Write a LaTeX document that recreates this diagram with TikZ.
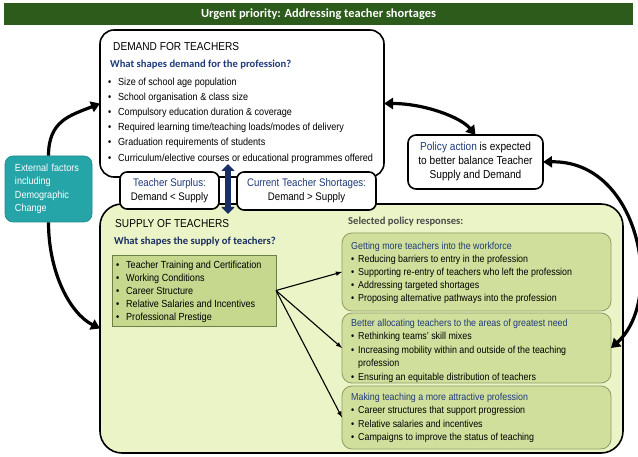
\documentclass[tikz,border=0pt]{standalone}
\usepackage{fontspec}
\setmainfont[FakeStretch=0.88]{Liberation Sans}
\newfontfamily\calibri{Carlito}
\usetikzlibrary{arrows.meta}

\definecolor{barGreen}{HTML}{2C5B1C}
\definecolor{supplyGreen}{HTML}{EBF4C6}
\definecolor{policyGreen}{HTML}{D0E09C}
\definecolor{policyEdge}{HTML}{8E9C64}
\definecolor{factorGreen}{HTML}{C5D88E}
\definecolor{factorEdge}{HTML}{6E7E44}
\definecolor{extTeal}{HTML}{25A5A8}
\definecolor{extEdge}{HTML}{1B8A8C}
\definecolor{navyText}{HTML}{1F3A7A}
\definecolor{navyArrow}{HTML}{1A2F66}
\definecolor{greyText}{HTML}{4A4A4A}

\newcommand{\dotitem}[1][10pt]{\makebox[#1][l]{\textbullet}}

\tikzset{
  bigbox/.style={rectangle, rounded corners=14pt, draw, line width=1.6pt, outer sep=0pt},
  smallbox/.style={rectangle, rounded corners=7pt, draw, line width=1.6pt, fill=white, outer sep=0pt, align=center},
  policybox/.style={rectangle, rounded corners=10pt, draw=policyEdge, line width=0.8pt, fill=policyGreen, outer sep=0pt},
  bigarrow/.style={line width=3.2pt, -{Triangle[length=9pt,width=11pt]}},
  listtext/.style={anchor=north west, align=left, inner sep=0pt},
  heading/.style={anchor=west, inner sep=0pt, font=\fontsize{11.5}{13}\selectfont},
  question/.style={anchor=west, inner sep=0pt, font=\calibri\bfseries\fontsize{10.6}{12}\selectfont},
}

\begin{document}
\begin{tikzpicture}[x=1pt, y=-1pt]
    \useasboundingbox (0,0) rectangle (638,457);

    \node at (318.5,14) [rectangle, fill=barGreen, minimum width=629, minimum height=22, text=white, font=\calibri\bfseries\fontsize{12.4}{14}\selectfont] (Title) {Urgent priority: Addressing teacher shortages};

    \node at (242,103.5) [bigbox, fill=white, minimum width=284, minimum height=147] (Demand) {};
    \node at (361.5,328.5) [bigbox, rounded corners=22pt, fill=supplyGreen, minimum width=523, minimum height=249] (Supply) {};

    \node at (169.5,190.5) [smallbox, minimum width=99, minimum height=37, font=\fontsize{11}{14}\selectfont] (Surplus) {\textcolor{navyText}{Teacher Surplus:}\\Demand {<} Supply};
    \node at (306.5,191) [smallbox, minimum width=139, minimum height=38, font=\fontsize{11}{14}\selectfont] (Shortages) {\textcolor{navyText}{Current Teacher Shortages:}\\Demand {>} Supply};

    \node at (48.5,189) [rectangle, rounded corners=8pt, fill=extTeal, draw=extEdge, line width=0.6pt, minimum width=87, minimum height=66, text=white, text width=67, align=left, font=\fontsize{10.3}{13.5}\selectfont] (External) {External factors\\including\\Demographic\\Change};

    \node at (475.5,162) [smallbox, rounded corners=8pt, minimum width=135, minimum height=54, font=\fontsize{11.5}{14}\selectfont] (PolicyAction) {\textcolor{navyText}{Policy action} is expected\\to better balance Teacher\\Supply and Demand};

    \node[heading] at (113,47) (DemandTitle) {DEMAND FOR TEACHERS};
    \node[question, text=navyText] at (110,65) (DemandQuestion) {What shapes demand for the profession?};
    \node[listtext, font=\fontsize{10.3}{15.2}\selectfont] at (108,77.5) (DemandList) {\dotitem Size of school age population\\
        \dotitem School organisation \& class size\\
        \dotitem Compulsory education duration \& coverage\\
        \dotitem Required learning time/teaching loads/modes of delivery\\
        \dotitem Graduation requirements of students\\
        \dotitem Curriculum/elective courses or educational programmes offered};

    \node[heading] at (115,224) (SupplyTitle) {SUPPLY OF TEACHERS};
    \node[question, text=navyText!80!black] at (114,242) (SupplyQuestion) {What shapes the supply of teachers?};
    \node at (194,290.5) [rectangle, fill=factorGreen, draw=factorEdge, line width=0.6pt, minimum width=164, minimum height=71, outer sep=0pt] (SupplyFactors) {};
    \node[listtext, font=\fontsize{10.3}{13}\selectfont] at (116,260.5) (FactorList) {\dotitem Teacher Training and Certification\\
        \dotitem Working Conditions\\
        \dotitem Career Structure\\
        \dotitem Relative Salaries and Incentives\\
        \dotitem Professional Prestige};

    \node[question, text=greyText] at (348,222) (SelectedLabel) {Selected policy responses:};

    \node at (476.5,272) [policybox, minimum width=269, minimum height=78] (Getting) {};
    \node at (476.5,348) [policybox, minimum width=269, minimum height=70] (Allocating) {};
    \node at (476.5,417.5) [policybox, minimum width=269, minimum height=63] (Attractive) {};

    \node[listtext, font=\fontsize{10.1}{13}\selectfont] at (351,241.5) (GettingList) {\textcolor{navyText}{Getting more teachers into the workforce}\\
        \dotitem[7pt]Reducing barriers to entry in the profession\\
        \dotitem[7pt]Supporting re-entry of teachers who left the profession\\
        \dotitem[7pt]Addressing targeted shortages\\
        \dotitem[7pt]Proposing alternative pathways into the profession};
    \node[listtext, font=\fontsize{10.1}{13.5}\selectfont] at (351,318.5) (AllocatingList) {\textcolor{navyText}{Better allocating teachers to the areas of greatest need}\\
        \dotitem[7pt]Rethinking teams' skill mixes\\
        \dotitem[7pt]Increasing mobility within and outside of the teaching\\
        \hspace*{7pt}profession\\
        \dotitem[7pt]Ensuring an equitable distribution of teachers};
    \node[listtext, font=\fontsize{10.1}{13.5}\selectfont] at (351,392.5) (AttractiveList) {\textcolor{navyText}{Making teaching a more attractive profession}\\
        \dotitem[7pt]Career structures that support progression\\
        \dotitem[7pt]Relative salaries and incentives\\
        \dotitem[7pt]Campaigns to improve the status of teaching};

    \coordinate (GapTop) at (228,164);
    \coordinate (GapBottom) at (228,214);
    \draw[navyArrow, line width=6pt, {Triangle[length=7pt,width=13pt]}-{Triangle[length=7pt,width=13pt]}] (GapTop) -- (GapBottom);

    \draw[bigarrow] (External.north) .. controls +(0,-35) and +(-30,12) .. (Demand.west);
    \draw[bigarrow] (External.south) .. controls +(0,50) and +(-30,-15) .. (Supply.west);
    \draw[bigarrow, {Triangle[length=9pt,width=11pt]}-{Triangle[length=9pt,width=11pt]}] (Demand.east) .. controls +(40,0) and +(-15,-18) .. (PolicyAction.north);
    \draw[bigarrow, {Triangle[length=9pt,width=11pt]}-{Triangle[length=9pt,width=11pt]}] (PolicyAction.east) .. controls +(97,-2) and +(54,-48) .. (Allocating.east);

    \draw[-latex, line width=1.1pt] (SupplyFactors.east) -- (Getting.west);
    \draw[-latex, line width=1.1pt] (SupplyFactors.east) -- (Allocating.west);
    \draw[-latex, line width=1.1pt] (SupplyFactors.east) -- (Attractive.west);
\end{tikzpicture}
\end{document}
